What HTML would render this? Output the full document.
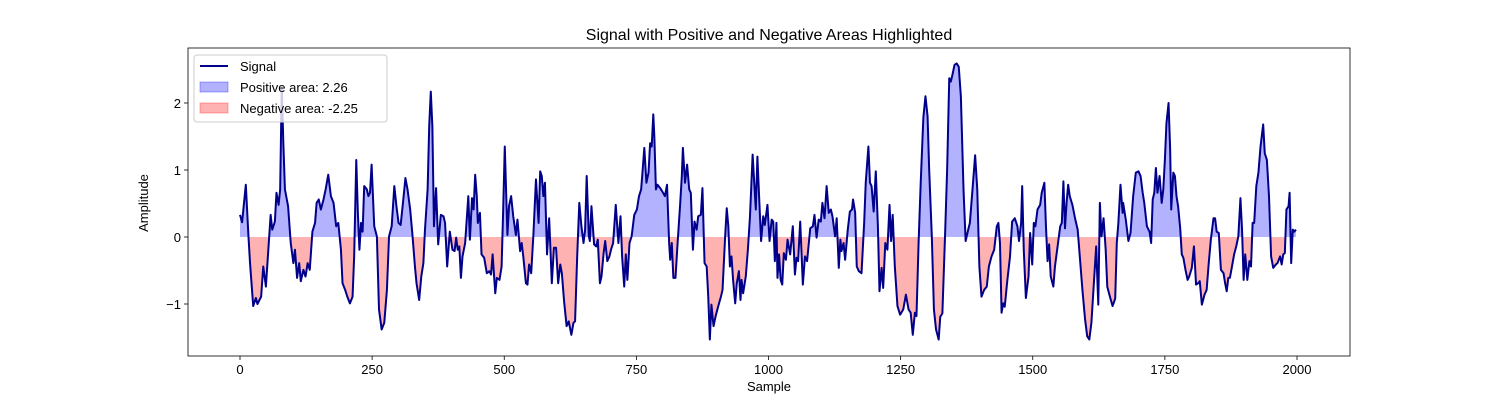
<!DOCTYPE html>
<html><head><meta charset="utf-8"><style>
html,body{margin:0;padding:0;background:#fff;}
svg text{font-family:"Liberation Sans","DejaVu Sans",sans-serif;fill:#000;}
</style></head><body>
<svg id="chart" width="1500" height="400" viewBox="0 0 1500 400" xmlns="http://www.w3.org/2000/svg">
<rect width="1500" height="400" fill="#fff"/>
<text x="769" y="40" font-size="16" text-anchor="middle">Signal with Positive and Negative Areas Highlighted</text>
<defs>
<clipPath id="clipPos"><rect x="188" y="48" width="1162" height="189"/></clipPath>
<clipPath id="clipNeg"><rect x="188" y="237" width="1162" height="119"/></clipPath>
</defs>
<g id="plot"></g>
<g id="axes"></g>
<text x="769" y="391" font-size="13" text-anchor="middle">Sample</text>
<text x="148" y="203" font-size="13" text-anchor="middle" transform="rotate(-90 148 203)">Amplitude</text>
<g>
<rect x="194" y="55" width="193" height="67" rx="3" fill="#fff" fill-opacity="0.8" stroke="#ccc" stroke-width="1"/>
<line x1="200" y1="66" x2="228" y2="66" stroke="#00008b" stroke-width="2"/>
<text x="240" y="71" font-size="13">Signal</text>
<rect x="200" y="82" width="28" height="10" fill="rgba(0,0,255,0.3)" stroke="rgba(0,0,255,0.3)"/>
<text x="240" y="92" font-size="13">Positive area: 2.26</text>
<rect x="200" y="103" width="28" height="10" fill="rgba(255,0,0,0.3)" stroke="rgba(255,0,0,0.3)"/>
<text x="240" y="113" font-size="13">Negative area: -2.25</text>
</g>
</svg>
<script>
const samples = [0,4,11,16,19,25,30,33,40,44,49,54,58,61,66,69,73,76,79,82,85,91,96,101,104,108,112,115,120,124,128,132,137,142,145,149,153,158,162,167,172,177,182,186,191,194,199,203,208,213,216,220,223,226,229,232,235,240,243,246,249,254,259,263,268,273,278,282,287,292,296,300,304,309,313,317,322,326,331,334,339,343,347,350,355,358,361,364,367,371,375,380,385,388,392,397,402,406,409,412,415,418,421,426,429,432,435,439,442,445,448,450,454,457,462,467,472,475,478,483,486,491,495,498,501,506,509,513,517,522,525,530,533,536,541,544,547,551,555,560,565,568,571,574,577,581,585,590,594,598,602,606,609,613,618,622,627,631,634,638,642,646,650,653,656,660,662,665,670,674,677,681,684,688,691,695,699,702,706,711,716,720,723,727,730,733,737,741,746,751,755,759,762,765,769,773,776,779,782,784,787,790,795,799,804,808,812,814,817,820,824,828,833,836,838,842,846,850,853,857,860,864,867,872,875,879,883,886,889,892,896,900,905,910,913,918,921,924,927,930,933,937,940,944,947,949,952,957,961,965,970,973,976,979,983,986,990,993,998,1002,1006,1009,1012,1015,1017,1020,1023,1026,1029,1033,1036,1041,1046,1050,1053,1056,1060,1065,1069,1073,1079,1084,1087,1091,1095,1099,1102,1106,1110,1114,1118,1121,1126,1129,1133,1136,1138,1142,1145,1150,1154,1158,1160,1164,1167,1171,1176,1181,1184,1189,1192,1195,1199,1203,1207,1210,1214,1217,1221,1225,1229,1232,1235,1239,1244,1249,1255,1260,1265,1269,1273,1277,1280,1284,1288,1293,1297,1301,1304,1309,1313,1317,1322,1325,1329,1334,1338,1342,1345,1348,1352,1356,1360,1364,1369,1373,1377,1381,1386,1391,1395,1399,1403,1408,1413,1417,1422,1427,1432,1435,1438,1441,1444,1447,1452,1457,1461,1466,1471,1474,1478,1480,1483,1487,1492,1495,1499,1502,1505,1509,1514,1517,1522,1525,1528,1531,1534,1539,1542,1547,1552,1555,1558,1561,1564,1567,1570,1575,1580,1585,1589,1594,1599,1603,1607,1611,1616,1620,1624,1627,1630,1634,1638,1641,1646,1651,1656,1659,1662,1666,1670,1671,1676,1681,1685,1690,1695,1700,1704,1708,1711,1716,1721,1724,1727,1730,1733,1736,1740,1744,1747,1750,1753,1757,1760,1762,1766,1769,1772,1775,1779,1782,1785,1789,1793,1796,1801,1805,1809,1813,1816,1820,1825,1829,1833,1837,1842,1845,1848,1852,1856,1861,1864,1867,1870,1873,1877,1881,1885,1889,1893,1896,1899,1902,1906,1910,1913,1916,1919,1923,1927,1931,1936,1939,1943,1947,1951,1955,1960,1963,1968,1971,1974,1977,1980,1984,1986,1989,1992,1995,1998];
const amplitudes = [0.33,0.22,0.78,0.01,-0.39,-1.03,-0.91,-1.00,-0.89,-0.44,-0.74,-0.14,0.33,0.11,0.23,0.66,0.48,0.71,2.25,1.40,0.71,0.46,-0.09,-0.39,-0.19,-0.61,-0.39,-0.66,-0.49,-0.59,-0.39,-0.49,0.08,0.21,0.51,0.56,0.41,0.56,0.71,0.93,0.61,0.51,0.16,0.21,-0.19,-0.69,-0.79,-0.89,-0.99,-0.89,-0.29,1.15,0.36,-0.19,0.21,0.08,0.76,0.71,0.61,0.66,1.08,0.16,0.01,-1.08,-1.38,-1.28,-0.79,0.01,0.16,0.76,0.46,0.21,0.18,0.56,0.88,0.71,0.41,0.06,-0.44,-0.69,-0.94,-0.59,-0.39,0.11,0.71,1.65,2.17,1.65,0.16,0.73,-0.11,0.33,0.31,0.21,-0.44,0.08,-0.19,-0.21,-0.01,-0.19,-0.14,-0.61,-0.29,-0.09,0.26,0.61,-0.04,0.58,0.41,0.93,0.61,0.21,0.36,-0.26,-0.31,-0.54,-0.51,-0.56,-0.26,-0.84,-0.61,-0.64,-0.44,0.41,1.35,0.03,0.46,0.61,0.31,0.03,0.26,-0.21,-0.09,-0.29,-0.69,-0.71,-0.41,-0.54,0.01,0.86,0.21,0.98,0.91,0.61,0.81,-0.26,0.28,-0.69,-0.16,-0.16,-0.69,-0.41,-0.54,-0.94,-1.33,-1.26,-1.46,-1.28,-1.26,-0.29,0.51,0.16,-0.09,0.11,0.91,0.01,-0.06,0.46,-0.11,-0.14,-0.04,-0.69,-0.59,-0.24,-0.06,-0.36,-0.29,-0.19,-0.09,0.48,-0.09,0.31,-0.29,-0.74,-0.26,-0.64,-0.09,0.01,0.33,0.41,0.61,0.71,1.01,1.33,0.81,0.96,1.40,1.35,1.83,1.50,0.71,0.78,0.73,0.68,0.61,0.78,-0.09,-0.34,-0.09,-0.61,-0.61,-0.09,0.51,0.91,1.33,0.81,1.08,0.71,0.66,-0.19,0.23,0.11,0.31,0.33,0.73,-0.39,-0.44,-0.89,-1.53,-1.01,-1.33,-1.18,-1.03,-0.89,-0.79,0.01,0.43,0.16,-0.44,-0.29,-0.64,-0.99,-0.69,-0.51,-0.94,-0.64,-0.84,-0.59,-0.19,0.31,1.23,0.81,0.41,1.20,0.46,-0.06,0.31,0.18,0.48,-0.06,0.26,0.23,-0.36,0.21,-0.61,-0.26,-0.64,-0.71,-0.24,-0.34,-0.04,-0.26,0.16,-0.56,-0.31,-0.36,0.23,-0.71,-0.29,-0.36,0.13,0.16,0.33,-0.01,0.26,0.23,0.51,0.28,0.76,0.36,0.41,0.31,0.01,0.28,-0.46,-0.04,-0.21,-0.09,-0.34,0.11,0.38,0.41,0.56,0.36,-0.44,-0.51,-0.54,0.21,0.81,1.35,0.81,0.76,0.38,0.98,0.16,-0.81,-0.46,-0.76,-0.09,-0.19,0.48,-0.06,0.33,-0.44,-1.03,-1.16,-1.08,-0.86,-1.08,-1.13,-1.46,-1.13,-1.18,-0.09,0.81,1.78,2.10,1.80,1.01,0.01,-1.08,-1.38,-1.53,-1.19,-1.14,0.01,1.00,2.37,2.32,2.42,2.57,2.59,2.54,2.10,0.71,-0.06,0.08,0.21,0.71,1.22,0.71,-0.44,-0.89,-0.79,-0.74,-0.44,-0.29,-0.19,0.16,0.21,-0.09,-1.13,-0.99,-1.04,-0.64,-0.29,0.23,0.28,0.16,-0.06,0.21,0.76,-0.19,-0.91,-0.59,0.06,-0.41,0.21,0.16,0.41,0.48,0.66,0.81,0.16,-0.36,-0.11,-0.59,-0.74,-0.44,-0.14,0.16,0.21,0.83,0.13,0.51,0.78,0.61,0.48,0.28,0.11,-0.29,-0.79,-1.23,-1.48,-1.53,-1.28,-0.64,-0.14,-1.01,0.51,0.01,0.28,-0.19,-0.74,-0.89,-1.03,-0.92,-0.09,0.21,0.78,0.36,0.51,0.26,-0.06,0.06,0.61,0.96,0.98,0.91,0.66,0.51,0.16,0.08,-0.09,0.56,0.66,1.03,0.66,0.91,0.51,0.71,1.15,1.70,2.00,1.30,0.41,0.96,0.91,0.61,0.46,0.13,-0.26,-0.31,-0.49,-0.64,-0.59,-0.46,-0.14,-0.71,-0.69,-0.66,-1.01,-0.86,-0.79,-0.39,-0.04,0.28,0.28,0.08,0.06,-0.49,-0.54,-0.69,-0.81,-0.61,-0.61,-0.44,-0.26,-0.14,0.01,0.58,0.11,-0.64,-0.26,-0.64,-0.36,-0.44,0.21,0.21,0.76,0.96,1.35,1.68,1.25,1.15,0.61,-0.29,-0.46,-0.41,-0.39,-0.29,-0.41,-0.26,-0.24,0.41,0.46,0.66,-0.39,0.11,0.08,0.11,-0.06];
const xTicks = [0,250,500,750,1000,1250,1500,1750,2000];
const yTicks = [-1,0,1,2];

const NS = "http://www.w3.org/2000/svg";
const L = 188, R = 1350, T = 48, B = 356;
const xScale = s => 240 + (s - 0) * (1297 - 240) / 2000;
const yScale = v => 237 - v * 67;
const plot = document.getElementById('plot');
const axes = document.getElementById('axes');
function mk(tag, attrs, parent) {
  const e = document.createElementNS(NS, tag);
  for (const k in attrs) e.setAttribute(k, attrs[k]);
  parent.appendChild(e);
  return e;
}
const n = Math.min(samples.length, amplitudes.length);
let pts = [];
for (let i = 0; i < n; i++) pts.push(xScale(samples[i]).toFixed(2) + ',' + yScale(amplitudes[i]).toFixed(2));
const y0 = yScale(0);
const areaD = 'M' + xScale(samples[0]).toFixed(2) + ',' + y0 + ' L' + pts.join(' L') + ' L' + xScale(samples[n-1]).toFixed(2) + ',' + y0 + ' Z';
const pos = mk('path', {d: areaD, fill: 'rgba(0,0,255,0.3)', stroke: 'none', 'clip-path': 'url(#clipPos)'}, plot);


const neg = mk('path', {d: areaD, fill: 'rgba(255,0,0,0.3)', stroke: 'none', 'clip-path': 'url(#clipNeg)'}, plot);


const line = mk('polyline', {points: pts.join(' '), fill: 'none', stroke: '#00008b', 'stroke-width': 2, 'stroke-linejoin': 'round'}, plot);



const frame = mk('rect', {x: L, y: T, width: R - L, height: B - T, fill: 'none', stroke: '#000', 'stroke-width': 0.8}, axes);


xTicks.forEach(t => {
  const x = xScale(t);
  const tk = mk('line', {x1: x, y1: B, x2: x, y2: B + 4, stroke: '#000', 'stroke-width': 0.8}, axes);
  
  
  const lb = mk('text', {x: x, y: B + 18, 'font-size': 13, 'text-anchor': 'middle'}, axes);
  lb.textContent = String(t);
  
  
});
yTicks.forEach(t => {
  const y = yScale(t);
  const tk = mk('line', {x1: L - 4, y1: y, x2: L, y2: y, stroke: '#000', 'stroke-width': 0.8}, axes);
  
  
  const lb = mk('text', {x: L - 7, y: y + 5, 'font-size': 13, 'text-anchor': 'end'}, axes);
  lb.textContent = t < 0 ? '\u2212' + Math.abs(t) : String(t);
  
  
});
</script>
</body></html>
